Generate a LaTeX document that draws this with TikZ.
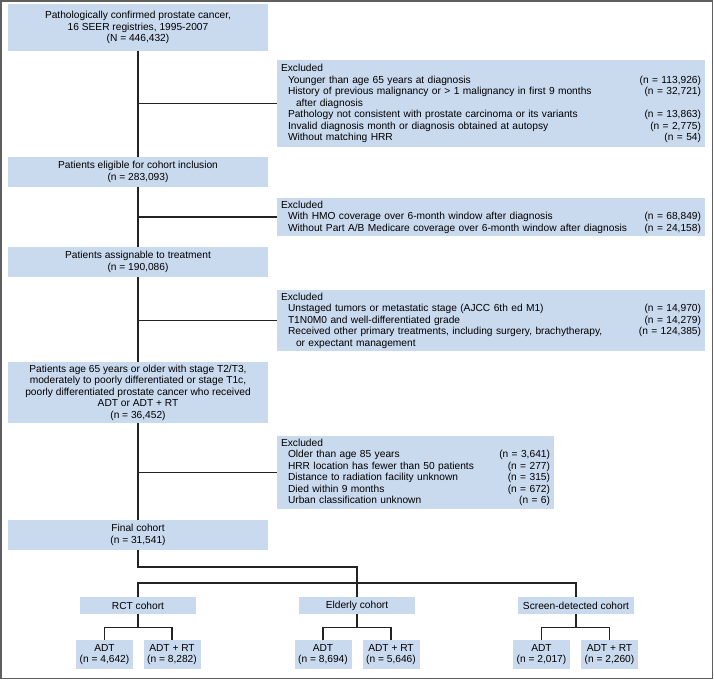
\documentclass[tikz,border=0pt]{standalone}
\usepackage{fontspec}
\setmainfont{Liberation Sans}
\definecolor{boxblue}{RGB}{201,217,238}
\definecolor{framegray}{RGB}{95,95,95}
\definecolor{linecol}{RGB}{35,35,35}
\newcommand\diagfont{\fontsize{10.2}{11.5}\selectfont}
\newcommand\itm{\hspace*{7pt}}
\newcommand\cnt{\hspace*{15pt}}
\begin{document}
\begin{tikzpicture}[x=1pt,y=-1pt,
  box/.style={fill=boxblue, draw=none, align=center, inner sep=0pt, font=\diagfont},
  exbox/.style={fill=boxblue, draw=none, align=left, inner xsep=4pt, inner ysep=0pt, font=\diagfont},
  conn/.style={draw=linecol, line width=1.3pt}]
\useasboundingbox (0,0) rectangle (714,680);
\draw[framegray, line width=1.2pt] (1,1) rectangle (712.5,678.5);

\node[box, minimum width=260, minimum height=47] (b1) at (138,27.5)
  {Pathologically confirmed prostate cancer,\\16 SEER registries, 1995-2007\\(N = 446,432)};
\node[exbox, text width=420, minimum height=87] (ex1) at (491,103.5)
  {Excluded\\
  \itm Younger than age 65 years at diagnosis\hfill(n = 113,926)\\
  \itm History of previous malignancy or > 1 malignancy in first 9 months\hfill(n = 32,721)\\
  \cnt after diagnosis\\
  \itm Pathology not consistent with prostate carcinoma or its variants\hfill(n = 13,863)\\
  \itm Invalid diagnosis month or diagnosis obtained at autopsy\hfill(n = 2,775)\\
  \itm Without matching HRR\hfill(n = 54)};
\node[box, minimum width=260, minimum height=30] (elig) at (138,172)
  {Patients eligible for cohort inclusion\\(n = 283,093)};
\node[exbox, text width=420, minimum height=38] (ex2) at (491,217)
  {Excluded\\
  \itm With HMO coverage over 6-month window after diagnosis\hfill(n = 68,849)\\
  \itm Without Part A/B Medicare coverage over 6-month window after diagnosis\hfill(n = 24,158)};
\node[box, minimum width=260, minimum height=30] (assign) at (138,262)
  {Patients assignable to treatment\\(n = 190,086)};
\node[exbox, text width=420, minimum height=61] (ex3) at (491,320.5)
  {Excluded\\
  \itm Unstaged tumors or metastatic stage (AJCC 6th ed M1)\hfill(n = 14,970)\\
  \itm T1N0M0 and well-differentiated grade\hfill(n = 14,279)\\
  \itm Received other primary treatments, including surgery, brachytherapy,\hfill(n = 124,385)\\
  \cnt or expectant management};
\node[box, minimum width=260, minimum height=61] (age) at (138,392.5)
  {Patients age 65 years or older with stage T2/T3,\\moderately to poorly differentiated or stage T1c,\\poorly differentiated prostate cancer who received\\ADT or ADT + RT\\(n = 36,452)};
\node[exbox, text width=269, minimum height=73] (ex4) at (415.5,472.5)
  {Excluded\\
  \itm Older than age 85 years\hfill(n = 3,641)\\
  \itm HRR location has fewer than 50 patients\hfill(n = 277)\\
  \itm Distance to radiation facility unknown\hfill(n = 315)\\
  \itm Died within 9 months\hfill(n = 672)\\
  \itm Urban classification unknown\hfill(n = 6)};
\node[box, minimum width=260, minimum height=30] (final) at (138,535)
  {Final cohort\\(n = 31,541)};

\node[box, minimum width=116, minimum height=17] (rct) at (138,605.5) {RCT cohort};
\node[box, minimum width=116, minimum height=17] (eld) at (357,605.5) {Elderly cohort};
\node[box, minimum width=116, minimum height=17] (scr) at (576,605.5) {Screen-detected cohort};

\node[box, minimum width=57, minimum height=29] (rctA) at (104.5,654.5) {ADT\\(n = 4,642)};
\node[box, minimum width=57, minimum height=29] (rctB) at (172,654.5) {ADT + RT\\(n = 8,282)};
\node[box, minimum width=57, minimum height=29] (eldA) at (323,654.5) {ADT\\(n = 8,694)};
\node[box, minimum width=57, minimum height=29] (eldB) at (391,654.5) {ADT + RT\\(n = 5,646)};
\node[box, minimum width=57, minimum height=29] (scrA) at (541.5,654.5) {ADT\\(n = 2,017)};
\node[box, minimum width=57, minimum height=29] (scrB) at (609.5,654.5) {ADT + RT\\(n = 2,260)};

\draw[conn] (b1.south) -- (elig.north);
\draw[conn] (b1.south |- ex1.west) -- (ex1.west);
\draw[conn] (elig.south) -- (assign.north);
\draw[conn] (elig.south |- ex2.west) -- (ex2.west);
\draw[conn] (assign.south) -- (age.north);
\draw[conn] (assign.south |- ex3.west) -- (ex3.west);
\draw[conn] (age.south) -- (final.north);
\draw[conn] (age.south |- ex4.west) -- (ex4.west);

\coordinate (j1) at (138,567);
\coordinate (bus) at (138,583);
\draw[conn] (final.south) -- (j1) -| (eld.north);
\draw[conn] (rct.north) -- (bus) -| (scr.north);

\draw[conn] (rct.south) -- ++(0,13) coordinate (r1);
\draw[conn] (rctA.north) |- (r1) -| (rctB.north);
\draw[conn] (eld.south) -- ++(0,13) coordinate (e1);
\draw[conn] (eldA.north) |- (e1) -| (eldB.north);
\draw[conn] (scr.south) -- ++(0,13) coordinate (s1);
\draw[conn] (scrA.north) |- (s1) -| (scrB.north);
\end{tikzpicture}
\end{document}
